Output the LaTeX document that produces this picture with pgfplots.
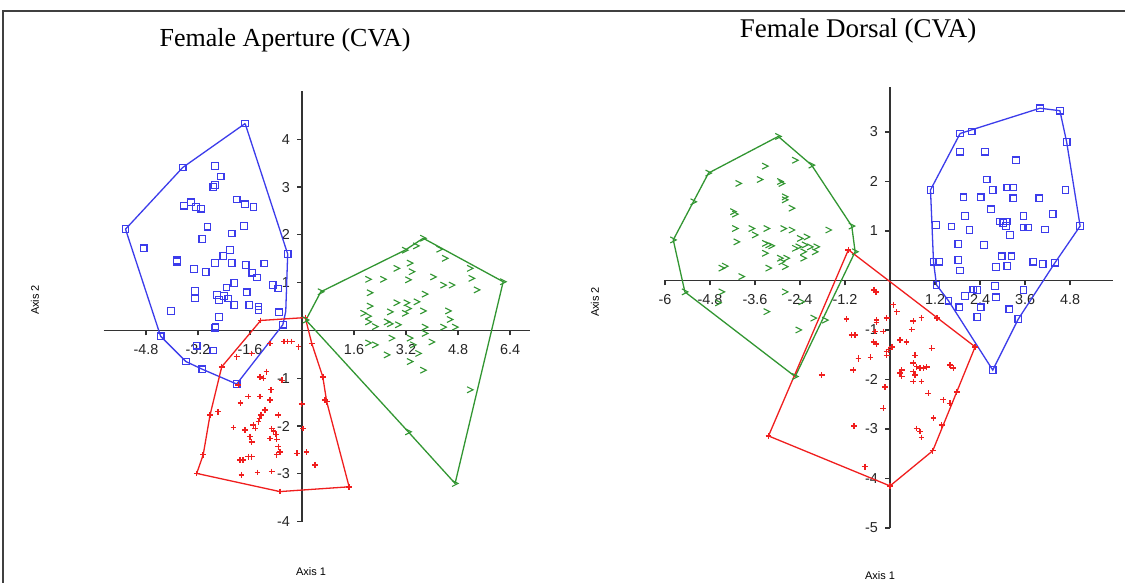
\documentclass[border=0pt]{standalone}
\usepackage{fontspec}
\setmainfont{Liberation Sans}
\newfontfamily\titlefont{Liberation Serif}
\usepackage{pgfplots}
\pgfplotsset{compat=1.18}
\definecolor{cblue}{RGB}{60,60,235}
\definecolor{cred}{RGB}{240,30,30}
\definecolor{cgreen}{RGB}{50,150,50}
\pgfdeclareplotmark{chev}{%
  \pgfpathmoveto{\pgfqpoint{-\pgfplotmarksize}{\pgfplotmarksize}}%
  \pgfpathlineto{\pgfqpoint{\pgfplotmarksize}{0pt}}%
  \pgfpathlineto{\pgfqpoint{-\pgfplotmarksize}{-\pgfplotmarksize}}%
  \pgfusepathqstroke}
\pgfplotsset{
  myaxis/.style={
    axis lines=middle,
    axis line style={-, black!80, line width=0.8pt},
    tick align=outside,
    major tick length=2.5pt,
    tick style={black!80, line width=0.6pt},
    ticklabel style={font=\fontsize{7.2}{8}\selectfont, text=black!85},
    xticklabel style={yshift=-0.8pt},
    clip=false,
    anchor=origin,
  },
  hullb/.style={cblue, line width=0.65pt, mark=none},
  hullr/.style={cred, line width=0.65pt, mark=none},
  hullg/.style={cgreen, line width=0.65pt, mark=none},
  ptb/.style={only marks, mark=square, mark size=1.65pt, color=cblue, mark options={draw=cblue, fill=none, line width=0.6pt}},
  ptr/.style={only marks, mark=+, mark size=1.45pt, color=cred, mark options={draw=cred, line width=0.7pt}},
  ptg/.style={only marks, mark=chev, mark size=1.5pt, color=cgreen, mark options={draw=cgreen, line width=0.55pt}},
}
\begin{document}
\begin{tikzpicture}
\useasboundingbox (0,0) rectangle (562.5pt,291.5pt);
\fill[white] (0,0) rectangle (562.5pt,291.5pt);
\draw[black!75, line width=0.6pt] (1.5pt,0) -- (1.5pt,286pt) -- (562.5pt,286pt);
% titles and labels
\node[font=\titlefont\fontsize{13}{15}\selectfont] at (142.5pt,271.5pt) {Female Aperture (CVA)};
\node[font=\titlefont\fontsize{13.5}{15}\selectfont] at (429pt,276pt) {Female Dorsal (CVA)};
\node[font=\fontsize{5.5}{6}\selectfont] at (155.5pt,5.5pt) {Axis 1};
\node[font=\fontsize{5.5}{6}\selectfont] at (440pt,3.5pt) {Axis 1};
\node[font=\fontsize{5.5}{6}\selectfont, rotate=90] at (17.5pt,141.5pt) {Axis 2};
\node[font=\fontsize{5.5}{6}\selectfont, rotate=90] at (297.5pt,140.5pt) {Axis 2};

% ---------------- Left: Female Aperture ----------------
\begin{axis}[myaxis, at={(151pt,126.25pt)}, x=16.25pt, y=23.9pt,
  xmin=-6.1, xmax=7.0, ymin=-4.0, ymax=5.0,
  xtick={-4.8,-3.2,-1.6,1.6,3.2,4.8,6.4},
  xticklabels={-4.8,-3.2,-1.6,1.6,3.2,4.8,6.4},
  ytick={-4,-3,-2,-1,1,2,3,4},
  yticklabels={-4,-3,-2,-1,1,2,3,4}]
% blue
\addplot[hullb] coordinates {(-1.75,4.33) (-0.44,1.60) (-0.50,0.40) (-0.59,0.12) (-2.01,-1.12) (-3.07,-0.81) (-3.57,-0.65) (-4.35,-0.12) (-5.43,2.12) (-3.67,3.41) (-1.75,4.33)};
\addplot[ptb] coordinates {(-1.75,4.33) (-0.44,1.60) (-0.59,0.12) (-2.01,-1.12) (-3.07,-0.81) (-3.57,-0.65) (-4.35,-0.12) (-5.43,2.12) (-3.67,3.41)
(-2.68,3.44) (-2.50,3.22) (-2.73,3.00) (-2.68,3.04) (-3.63,2.61) (-3.42,2.68) (-3.26,2.58) (-3.11,2.55) (-2.01,2.74) (-1.75,2.64) (-1.49,2.58) (-2.91,2.17) (-1.78,2.19) (-2.16,2.03) (-3.07,1.91) (-4.87,1.72) (-2.22,1.68) (-2.42,1.56) (-3.84,1.47) (-3.84,1.44) (-2.68,1.41) (-2.16,1.41) (-1.73,1.37) (-1.16,1.40) (-3.32,1.29) (-2.96,1.22) (-1.53,1.21) (-1.39,1.11) (-2.08,0.99) (-2.32,0.90) (-3.29,0.83) (-3.29,0.67) (-1.70,0.80) (-0.90,0.95) (-0.73,0.88) (-2.62,0.74) (-2.40,0.72) (-2.27,0.67) (-2.55,0.64) (-2.08,0.53) (-1.62,0.53) (-1.34,0.50) (-1.34,0.43) (-4.03,0.41) (-0.71,0.38) (-2.55,0.28) (-2.66,0.08) (-2.68,0.06) (-3.24,-0.32) (-2.73,-0.42)};
% red
\addplot[hullr] coordinates {(-1.27,0.21) (0.10,0.27) (0.30,-0.27) (0.64,-0.97) (0.76,-1.49) (1.45,-3.27) (-0.68,-3.37) (-3.24,-2.99) (-3.04,-2.60) (-2.83,-1.77) (-2.47,-0.76) (-1.27,0.21)};
\addplot[ptr] coordinates {(-1.27,0.21) (0.10,0.27) (0.30,-0.27) (0.64,-0.97) (0.76,-1.49) (1.45,-3.27) (-0.68,-3.37) (-3.24,-2.99) (-3.04,-2.60) (-2.83,-1.77) (-2.47,-0.76)
(-0.55,-0.23) (-0.45,-0.23) (-0.11,-0.34) (-2.01,-0.55) (-1.09,-0.86) (-1.29,-0.97) (-1.19,-1.00) (-0.62,-1.04) (-1.96,-1.14) (-0.96,-1.24) (-1.65,-1.38) (-1.29,-1.38) (-0.98,-1.45) (-1.89,-1.52) (-0.01,-1.54) (0.71,-1.45) (-1.14,-1.66) (-2.58,-1.70) (-1.26,-1.77) (-1.31,-1.84) (-0.73,-1.77) (-1.34,-1.91) (-1.50,-1.98) (-1.44,-2.05) (-2.11,-2.03) (-1.75,-2.08) (-0.93,-2.05) (-0.88,-2.10) (-0.80,-2.17) (0.03,-2.05) (-1.60,-2.22) (-0.98,-2.26) (-0.78,-2.28) (-1.55,-2.33) (-0.73,-2.43) (-0.68,-2.54) (0.14,-2.54) (-0.16,-2.57) (-0.78,-2.60) (-1.91,-2.71) (-1.81,-2.71) (-1.65,-2.64) (-1.55,-2.64) (0.40,-2.81) (-0.93,-2.95) (-1.37,-2.97) (-1.86,-3.02) (-1.55,-0.48) (-0.98,-0.27) (-0.32,-0.23)};
% green
\addplot[hullg] coordinates {(0.12,0.22) (0.58,0.81) (3.17,1.68) (3.73,1.93) (6.19,1.02) (4.71,-3.20) (3.27,-2.12) (0.12,0.22)};
\addplot[ptg] coordinates {(0.12,0.22) (0.58,0.81) (3.17,1.68) (3.73,1.93) (4.23,1.70) (6.19,1.02) (4.71,-3.20) (3.27,-2.12)
(3.51,1.77) (4.40,1.51) (3.32,1.41) (2.91,1.30) (5.17,1.30) (3.38,1.23) (2.04,1.07) (2.50,1.07) (3.27,1.06) (4.04,1.12) (5.22,1.09) (4.35,0.95) (4.61,0.95) (5.38,0.85) (2.09,0.79) (3.78,0.76) (2.91,0.58) (3.22,0.58) (3.53,0.60) (2.09,0.51) (3.27,0.46) (2.71,0.39) (3.17,0.36) (3.73,0.41) (4.50,0.41) (1.89,0.36) (2.04,0.30) (4.55,0.23) (2.04,0.18) (2.25,0.08) (2.61,0.18) (2.71,0.14) (2.96,0.12) (4.35,0.07) (4.71,0.07) (3.78,0.07) (3.78,-0.06) (2.76,-0.16) (3.32,-0.16) (2.04,-0.26) (2.25,-0.30) (3.99,-0.24) (3.42,-0.30) (3.58,-0.48) (2.61,-0.51) (3.32,-0.65) (3.73,-0.83) (5.17,-1.24)};
\end{axis}

% ---------------- Right: Female Dorsal ----------------
\begin{axis}[myaxis, at={(445pt,151.25pt)}, x=18.75pt, y=24.75pt,
  xmin=-6, xmax=5.95, ymin=-5, ymax=3.9,
  xtick={-6,-4.8,-3.6,-2.4,-1.2,1.2,2.4,3.6,4.8},
  xticklabels={-6,-4.8,-3.6,-2.4,-1.2,1.2,2.4,3.6,4.8},
  ytick={-5,-4,-3,-2,-1,1,2,3},
  yticklabels={-5,-4,-3,-2,-1,1,2,3}]
% green
\addplot[hullg] coordinates {(-2.98,2.91) (-2.09,2.33) (-1.02,1.10) (-0.93,0.58) (-2.53,-1.94) (-5.47,-0.23) (-5.78,0.82) (-4.84,2.17) (-2.98,2.91)};
\addplot[ptg] coordinates {(-2.98,2.91) (-2.09,2.33) (-1.02,1.10) (-0.93,0.58) (-1.73,-0.80) (-2.53,-1.94) (-5.47,-0.23) (-5.78,0.82) (-5.24,1.59) (-4.84,2.17)
(-3.33,2.31) (-2.53,2.43) (-3.47,2.04) (-2.93,2.00) (-2.89,1.96) (-4.04,1.96) (-2.80,1.69) (-2.80,1.63) (-2.62,1.46) (-4.18,1.39) (-4.13,1.34) (-4.13,1.05) (-3.69,1.05) (-3.29,1.05) (-2.84,1.05) (-2.62,1.02) (-1.64,1.02) (-3.60,0.92) (-4.09,0.78) (-3.33,0.75) (-3.24,0.72) (-3.16,0.70) (-2.40,0.85) (-2.22,0.88) (-2.44,0.68) (-2.27,0.72) (-2.13,0.68) (-1.96,0.68) (-2.53,0.65) (-2.31,0.58) (-2.00,0.58) (-3.33,0.55) (-2.93,0.45) (-2.76,0.45) (-2.89,0.38) (-2.31,0.45) (-3.24,0.25) (-2.80,0.28) (-4.49,0.25) (-4.40,0.29) (-3.96,0.08) (-4.49,-0.23) (-4.58,-0.45) (-2.80,-0.23) (-2.36,-0.43) (-3.29,-0.63) (-2.04,-0.76) (-2.44,-1.00)};
% red
\addplot[hullr] coordinates {(-1.11,0.62) (2.27,-1.34) (1.14,-3.44) (0,-4.15) (-3.24,-3.14) (-1.11,0.62)};
\addplot[ptr] coordinates {(-1.11,0.62) (2.27,-1.34) (1.14,-3.44) (0,-4.15) (-3.24,-3.14) (1.25,-0.76)
(-0.43,-0.19) (-0.37,-0.23) (0.09,-0.49) (0.18,-0.63) (-1.16,-0.78) (-0.09,-0.76) (0.62,-0.82) (0.84,-0.75) (-0.36,-0.85) (-0.18,-1.03) (0.58,-0.99) (-1.02,-1.10) (-0.93,-1.10) (-0.40,-1.03) (-0.44,-1.24) (-0.36,-1.28) (0.27,-1.20) (0.44,-1.24) (0.05,-1.34) (-0.04,-1.40) (-0.09,-1.51) (1.11,-1.37) (-0.84,-1.57) (-0.52,-1.55) (0.67,-1.51) (0.62,-1.67) (-0.98,-1.81) (-1.82,-1.91) (0.31,-1.81) (0.27,-1.87) (0.31,-1.94) (0.62,-1.84) (0.67,-1.91) (0.80,-1.77) (0.89,-1.77) (0.98,-1.75) (0.71,-1.74) (1.60,-1.71) (1.69,-1.77) (-0.13,-2.15) (0.62,-2.04) (0.84,-2.04) (1.02,-2.28) (1.78,-2.25) (1.42,-2.41) (1.60,-2.48) (-0.18,-2.58) (1.16,-2.78) (1.38,-2.92) (-0.96,-2.94) (0.71,-2.99) (0.80,-3.05) (0.84,-3.17) (-0.67,-3.76) (-0.36,-0.80) (-0.84,-1.58) (-0.09,-1.44)};
% blue
\addplot[hullb] coordinates {(4.00,3.48) (4.53,3.43) (4.71,2.80) (5.07,1.10) (4.40,0.36) (3.42,-0.78) (2.74,-1.81) (1.56,-0.41) (1.24,-0.09) (1.16,0.38) (1.08,1.83) (1.87,2.97) (4.00,3.48)};
\addplot[ptb] coordinates {(4.00,3.48) (4.53,3.43) (4.71,2.80) (5.07,1.10) (4.40,0.36) (3.42,-0.78) (2.74,-1.81) (1.56,-0.41) (1.24,-0.09) (1.16,0.38) (1.08,1.83) (1.87,2.97) (2.18,3.01)
(1.87,2.60) (2.53,2.60) (3.36,2.43) (2.58,2.04) (2.74,1.83) (3.13,1.88) (3.29,1.88) (1.96,1.68) (2.42,1.68) (3.29,1.66) (3.98,1.66) (2.69,1.44) (2.00,1.30) (3.56,1.30) (4.34,1.34) (1.23,1.12) (1.64,1.09) (2.12,1.02) (2.93,1.19) (3.02,1.16) (3.11,1.19) (3.20,0.92) (3.09,1.10) (3.56,1.07) (3.69,1.07) (4.13,1.03) (1.82,0.74) (2.51,0.72) (1.31,0.38) (1.82,0.41) (2.98,0.49) (3.24,0.49) (3.82,0.38) (4.07,0.33) (2.83,0.27) (3.13,0.29) (1.87,0.20) (2.80,-0.11) (3.56,-0.19) (2.22,-0.18) (2.33,-0.19) (2.00,-0.31) (2.83,-0.34) (1.85,-0.54) (2.42,-0.54) (3.18,-0.58) (2.33,-0.74) (4.68,1.83)};
\end{axis}
\end{tikzpicture}
\end{document}
